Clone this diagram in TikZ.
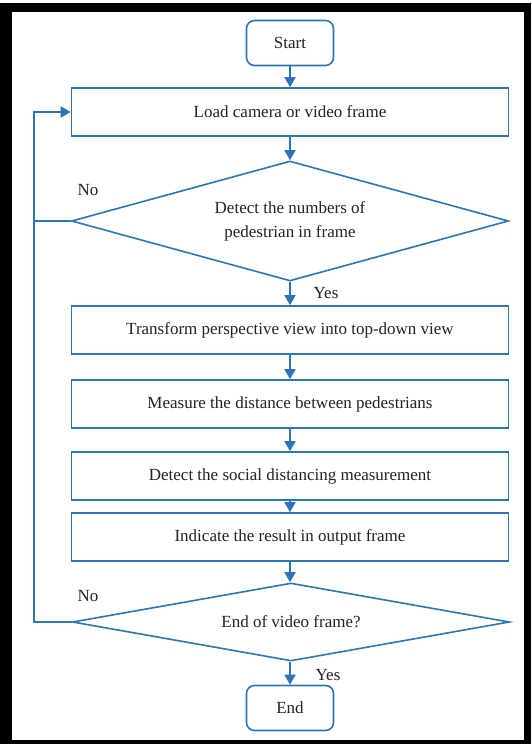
\documentclass[tikz,border=0pt]{standalone}
\usepackage{fontspec}
\setmainfont{Liberation Serif}
\usetikzlibrary{arrows.meta}
\usetikzlibrary{shapes.geometric}
\definecolor{flowblue}{RGB}{46,117,182}
\definecolor{inkgrey}{RGB}{35,35,35}

\tikzset{
	procbox/.style={draw=flowblue, line width=1.6pt, minimum width=437pt, minimum height=48pt, inner sep=0pt, text=inkgrey, font=\fontsize{17}{20}\selectfont},
	termbox/.style={procbox, rounded corners=8pt, minimum width=87pt, minimum height=45pt},
	decision/.style={draw=flowblue, line width=1.6pt, diamond, aspect=5, minimum width=437pt, minimum height=120pt, inner sep=0pt, align=center, text=inkgrey, font=\fontsize{17}{24}\selectfont},
	flow/.style={draw=flowblue, line width=1.6pt, -{Triangle[length=10pt,width=11pt]}},
	plain/.style={draw=flowblue, line width=1.6pt},
	answer/.style={text=inkgrey, font=\fontsize{17}{20}\selectfont}
}

\begin{document}
\begin{tikzpicture}[x=1pt,y=-1pt]
	\useasboundingbox (0,0) rectangle (531,744);

	%Black frame
	\fill [black] (0,3) rectangle (531,744);
	\fill [white] (12,12) rectangle (524,740);

	%Terminals
	\node [termbox] (start) at (290,43) {Start};
	\node [termbox] (end) at (290,708) {End};

	%Steps
	\node [procbox] (load) at (290,112) {Load camera or video frame};
	\node [decision] (detect) at (290,221) {Detect the numbers of\\pedestrian in frame};
	\node [procbox] (transform) at (290,330) {Transform perspective view into top-down view};
	\node [procbox] (measure) at (290,404) {Measure the distance between pedestrians};
	\node [procbox] (social) at (290,476) {Detect the social distancing measurement};
	\node [procbox] (indicate) at (290,537) {Indicate the result in output frame};
	\node [decision, minimum height=78pt] (finish) at (291,622) {End of video frame?};

	%Answers
	\node [answer] (no1) at (88,190) {No};
	\node [answer] (yes1) at (326,293) {Yes};
	\node [answer] (no2) at (88,596) {No};
	\node [answer] (yes2) at (328,675) {Yes};

	%Main flow
	\draw [flow] (start) -- (load);
	\draw [flow] (load) -- (detect);
	\draw [flow] (detect) -- (transform);
	\draw [flow] (transform) -- (measure);
	\draw [flow] (measure) -- (social);
	\draw [flow] (social) -- (indicate);
	\draw [flow] (indicate.south) -- (indicate.south |- finish.north);
	\draw [flow] (finish.south -| end) -- (end);

	%Loop back
	\coordinate (loopx) at (34,622);
	\draw [flow] (finish.west) -- (loopx) |- (load.west);
	\draw [plain] (detect.west) -- (detect.west -| loopx);
\end{tikzpicture}
\end{document}
